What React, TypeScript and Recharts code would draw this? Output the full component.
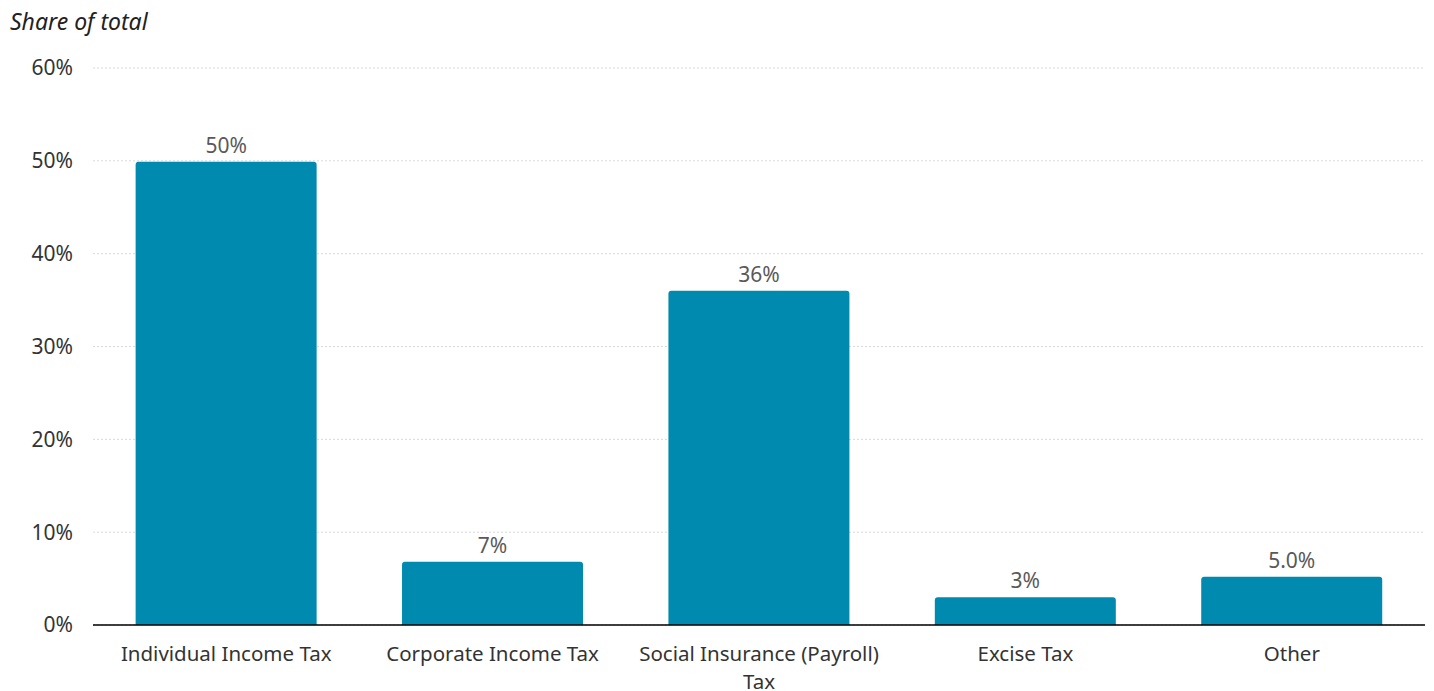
import React from 'react';
import { BarChart, Bar, XAxis, YAxis, CartesianGrid, LabelList } from 'recharts';

const categories = ['Individual Income Tax', 'Corporate Income Tax', 'Social Insurance (Payroll) Tax', 'Excise Tax', 'Other'];
const shares = [49.9, 6.8, 36.0, 3.0, 5.2];
const valueLabels = ['50%', '7%', '36%', '3%', '5.0%'];
const yTicks = [0, 10, 20, 30, 40, 50, 60];

const data = categories.map((c, i) => ({ name: c, value: shares[i], label: valueLabels[i] }));

const FONT = '"Noto Sans", "Open Sans", sans-serif';
const MAX_CHARS = 26;

function wrap(label: string): string[] {
  const words = label.split(' ');
  const lines: string[] = [];
  let cur = '';
  for (const w of words) {
    const next = cur ? cur + ' ' + w : w;
    if (next.length > MAX_CHARS && cur) {
      lines.push(cur);
      cur = w;
    } else {
      cur = next;
    }
  }
  if (cur) lines.push(cur);
  return lines;
}

const XTick = (props: any) => {
  const { x, y, payload } = props;
  const lines = wrap(String(payload.value));
  return (
    <g>
      {lines.map((l, i) => (
        <text
          key={i}
          x={x}
          y={y + 28 + i * 28}
          textAnchor="middle"
          fill="#333"
          style={{ fontFamily: FONT, fontSize: 20.5 }}
        >
          {l}
        </text>
      ))}
    </g>
  );
};

export default function App() {
  return (
    <div style={{ position: 'absolute', left: 0, top: 0, width: 1434, height: 691, background: '#fff' }}>
      <div style={{ position: 'absolute', left: 10, top: 5, fontFamily: FONT, fontStyle: 'italic', fontSize: 23, color: '#222' }}>
        Share of total
      </div>
      <BarChart
        width={1434}
        height={691}
        data={data}
        margin={{ top: 68, right: 9, bottom: 36, left: 0 }}
        barCategoryGap="16%"
      >
        <CartesianGrid vertical={false} stroke="#d9d9d9" strokeDasharray="2 2" />
        <XAxis
          dataKey="name"
          height={30}
          tickLine={false}
          axisLine={{ stroke: '#000', strokeWidth: 1.5 }}
          tick={<XTick />}
          interval={0}
        />
        <YAxis
          width={93}
          domain={[0, 60]}
          ticks={yTicks}
          tickFormatter={(v: number) => `${v}%`}
          axisLine={false}
          tickLine={false}
          tickSize={0}
          tickMargin={20}
          tick={{ fill: '#333', fontSize: 21, fontFamily: FONT }}
        />
        <Bar dataKey="value" fill="#008AB0" radius={[3, 3, 0, 0]} isAnimationActive={false}>
          <LabelList
            dataKey="label"
            position="top"
            offset={9}
            style={{ fill: '#595959', fontSize: 21, fontFamily: FONT }}
          />
        </Bar>
      </BarChart>
    </div>
  );
}
